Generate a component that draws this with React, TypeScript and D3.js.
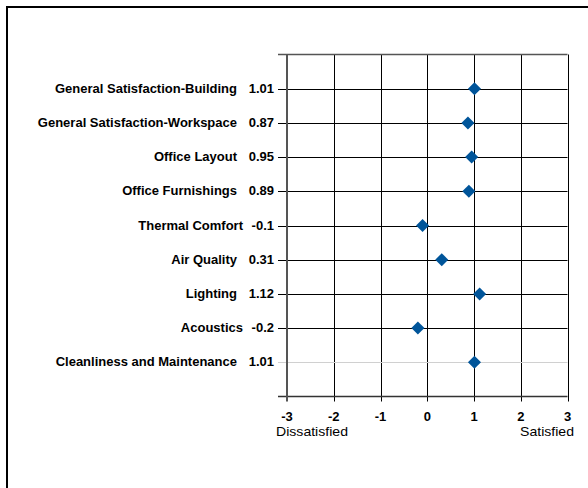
import React from "react";
import * as d3 from "d3";

const categories = [
  "General Satisfaction-Building",
  "General Satisfaction-Workspace",
  "Office Layout",
  "Office Furnishings",
  "Thermal Comfort",
  "Air Quality",
  "Lighting",
  "Acoustics",
  "Cleanliness and Maintenance",
];
const values = [1.01, 0.87, 0.95, 0.89, -0.1, 0.31, 1.12, -0.2, 1.01];
const valueLabels = ["1.01", "0.87", "0.95", "0.89", "-0.1", "0.31", "1.12", "-0.2", "1.01"];
const xTicks = [-3, -2, -1, 0, 1, 2, 3];
const xEndLabels = ["Dissatisfied", "Satisfied"];

export default function App() {
  const W = 588, H = 488;
  const x = d3.scaleLinear().domain([-3, 3]).range([287, 567.5]);
  const y = d3.scaleLinear().domain([0, 10]).range([54.5, 396.5]);
  const font = "'Liberation Sans', Arial, sans-serif";
  const diamond = d3.symbol().type(d3.symbolSquare).size(85)();
  return (
    <svg width={W} height={H} style={{ position: "absolute", left: 0, top: 0, background: "#fff" }}>
      <rect x={7} y={7} width={W + 20} height={H + 20} fill="#fff" stroke="#000" strokeWidth={2} />
      {xTicks.map((t) =>
        t === -3 ? null : (
          <line key={"v" + t} x1={Math.round(x(t)) + 0.5} x2={Math.round(x(t)) + 0.5} y1={y(0)} y2={y(10) + 5} stroke="#000" strokeWidth={1} />
        )
      )}
      {categories.map((c, i) => (
        <line
          key={"h" + i}
          x1={278}
          x2={x(3)}
          y1={Math.round(y(i + 1)) + 0.5}
          y2={Math.round(y(i + 1)) + 0.5}
          stroke={i === categories.length - 1 ? "#d0d0d0" : "#000"}
          strokeWidth={1}
        />
      ))}
      <line x1={278} x2={x(3)} y1={y(0)} y2={y(0)} stroke="#555" strokeWidth={1.5} />
      <line x1={278} x2={x(3)} y1={y(10)} y2={y(10)} stroke="#333" strokeWidth={1.5} />
      <line x1={x(-3)} x2={x(-3)} y1={y(0)} y2={y(10) + 5} stroke="#555" strokeWidth={2} />
      {categories.map((c, i) => (
        <g key={"l" + i} fontFamily={font} fontWeight="bold" fontSize={13} fill="#000">
          <text x={values[i] < 0 ? 243 : 237} y={y(i + 1) + 4} textAnchor="end">{c}</text>
          <text x={274} y={y(i + 1) + 4} textAnchor="end">{valueLabels[i]}</text>
        </g>
      ))}
      {xTicks.map((t) => (
        <text key={"t" + t} x={x(t)} y={421} textAnchor="middle" fontFamily={font} fontWeight="bold" fontSize={13} fill="#000">
          {t}
        </text>
      ))}
      <text x={276} y={436} fontFamily={font} fontSize={13} textLength={72} lengthAdjust="spacingAndGlyphs" fill="#000">{xEndLabels[0]}</text>
      <text x={520} y={436} fontFamily={font} fontSize={13} textLength={54} lengthAdjust="spacingAndGlyphs" fill="#000">{xEndLabels[1]}</text>
      {values.map((v, i) => (
        <path key={"p" + i} d={diamond} transform={`translate(${x(v)},${y(i + 1)}) rotate(45)`} fill="#00559a" />
      ))}
    </svg>
  );
}
